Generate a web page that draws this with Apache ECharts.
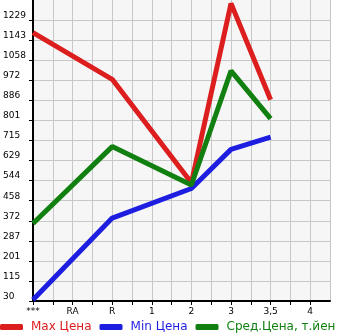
<!DOCTYPE html>
<html>
<head>
<meta charset="utf-8">
<script src="https://cdn.jsdelivr.net/npm/echarts@6/dist/echarts.min.js"></script>
<style>
  html, body { margin: 0; padding: 0; background: #fff; }
  #chart { width: 345px; height: 335px; }
</style>
</head>
<body>
<div id="chart"></div>
<script>
const xLabels = ['***', 'RA', 'R', '1', '2', '3', '3,5', '4']
const yTicks = [30, 115, 201, 287, 372, 458, 544, 629, 715, 801, 886, 972, 1058, 1143, 1229]

// one value per category, null = no point
const maxPrice = [1175, null, 976, null, 535, 1300, 889, null]
const minPrice = [35, null, 384, null, 510, 677, 729, null]
const avgPrice = [361, null, 689, null, 525, 1012, 808, null]

const toPoints = arr => arr.map((v, i) => v == null ? null : [i, v]).filter(p => p)

const chart = echarts.init(document.getElementById('chart'), null, { renderer: 'canvas' })

chart.setOption({
  animation: false,
  textStyle: { fontFamily: 'DejaVu Sans' },
  grid: {
    left: 31,
    right: 15,
    top: 0,
    bottom: 34,
    show: true,
    backgroundColor: '#f6f6f6',
    borderWidth: 0
  },
  legend: {
    left: 0,
    bottom: 2,
    itemWidth: 23,
    itemHeight: 6,
    itemGap: 8,
    icon: 'roundRect',
    padding: 0,
    textStyle: { fontSize: 12, fontFamily: 'DejaVu Sans', padding: [0, 0, 0, 3] },
    data: [
      { name: 'Max Цена', textStyle: { color: '#dc1e1e' } },
      { name: 'Min Цена', textStyle: { color: '#1e1ee0' } },
      { name: 'Сред.Цена, т.йен', textStyle: { color: '#118011' } }
    ]
  },
  xAxis: {
    type: 'value',
    min: 0,
    max: 7.5,
    interval: 0.5,
    axisLine: { show: true, lineStyle: { color: '#000', width: 2 } },
    axisTick: { show: true, length: 4, lineStyle: { color: '#000' } },
    axisLabel: {
      fontSize: 9,
      color: '#000',
      margin: 6,
      showMaxLabel: false,
      formatter: v => Number.isInteger(v) ? (xLabels[v] || '') : ''
    },
    splitLine: { show: true, lineStyle: { color: '#c8c8c8', width: 1 } }
  },
  yAxis: {
    type: 'value',
    min: 30,
    max: 1314.6,
    axisLine: { show: true, lineStyle: { color: '#000', width: 2 } },
    axisTick: { show: true, length: 4, lineStyle: { color: '#000' }, customValues: yTicks },
    axisLabel: {
      fontSize: 9,
      color: '#000',
      align: 'left',
      verticalAlign: 'bottom',
      margin: 30,
      customValues: yTicks,
      formatter: v => String(v)
    },
    splitLine: { show: true, lineStyle: { color: '#c8c8c8', width: 1 } }
  },
  series: [
    {
      name: 'Max Цена',
      type: 'line',
      data: toPoints(maxPrice),
      showSymbol: false,
      lineStyle: { color: '#dc1e1e', width: 5 },
      itemStyle: { color: '#dc1e1e' }
    },
    {
      name: 'Min Цена',
      type: 'line',
      data: toPoints(minPrice),
      showSymbol: false,
      lineStyle: { color: '#1e1ee0', width: 5 },
      itemStyle: { color: '#1e1ee0' }
    },
    {
      name: 'Сред.Цена, т.йен',
      type: 'line',
      data: toPoints(avgPrice),
      showSymbol: false,
      lineStyle: { color: '#118011', width: 5 },
      itemStyle: { color: '#118011' }
    }
  ]
})
</script>
</body>
</html>
